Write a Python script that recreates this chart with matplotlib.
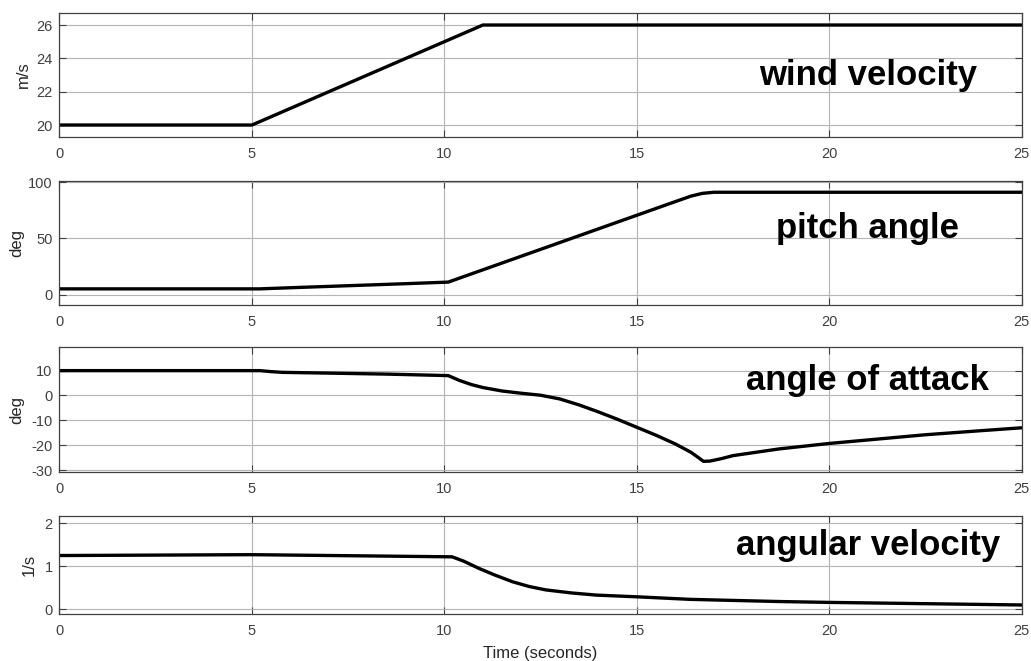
import numpy as np
import matplotlib
matplotlib.use("Agg")
import matplotlib.pyplot as plt

plt.rcParams['font.family'] = ['Liberation Sans', 'DejaVu Sans']
plt.rcParams['axes.unicode_minus'] = False

# values
t_wind = [0, 5, 11, 25]
wind = [20, 20, 26, 26]

t_pitch = [0, 5.2, 6.0, 7.0, 8.0, 9.0, 10.1, 12.0, 14.0, 16.0, 16.4, 16.7, 17.0, 25]
pitch = [5.3, 5.3, 6.3, 7.5, 8.7, 9.9, 11.3, 34.3, 58.5, 82.7, 87.5, 90.0, 91.0, 91.0]

t_aoa = [0, 5.2, 5.5, 5.8, 7.0, 8.5, 10.1, 10.25, 10.4, 10.7, 11.0, 11.5, 12.0, 12.5,
         13.0, 13.5, 14.0, 14.5, 15.0, 15.5, 16.0, 16.4, 16.6, 16.73, 16.9, 17.2,
         17.5, 18.7, 20.0, 21.0, 22.5, 24.0, 25.0]
aoa = [10, 10, 9.6, 9.3, 9.0, 8.6, 8.0, 7.0, 6.0, 4.4, 3.2, 1.8, 0.9, 0.1,
       -1.4, -3.8, -6.6, -9.6, -12.8, -16.0, -19.5, -22.8, -25.0, -26.5, -26.4, -25.4,
       -24.2, -21.5, -19.3, -17.9, -15.8, -14.1, -13.0]

t_omega = [0, 5.0, 10.2, 10.5, 10.9, 11.3, 11.77, 12.2, 12.64, 13.3, 13.94, 15.0,
           16.4, 18.7, 20.0, 22.5, 25.0]
omega = [1.25, 1.27, 1.22, 1.12, 0.95, 0.80, 0.64, 0.53, 0.45, 0.38, 0.33, 0.29,
         0.23, 0.18, 0.16, 0.13, 0.10]

series = [
    (t_wind, wind, 'm/s', (19.28, 26.72), [20, 22, 24, 26], 'wind velocity', 22.4),
    (t_pitch, pitch, 'deg', (-9, 101), [0, 50, 100], 'pitch angle', 50),
    (t_aoa, aoa, 'deg', (-30.8, 19.5), [-30, -20, -10, 0, 10], 'angle of attack', 2.2),
    (t_omega, omega, '1/s', (-0.11, 2.17), [0, 1, 2], 'angular velocity', 1.26),
]
ylab_x = [-0.030, -0.037, -0.037, -0.024]

fig = plt.figure(figsize=(10.31, 6.61), dpi=100)
left, width = 0.0577, 0.9333
boxes = [(0.7927, 0.1876), (0.5386, 0.1876), (0.2859, 0.1891), (0.0711, 0.1483)]

for (t, y, ylab, ylim, yt, name, ytext), (b, h), lx in zip(series, boxes, ylab_x):
    ax = fig.add_axes([left, b, width, h])
    ax.plot(t, y, color='black', lw=2.4)
    ax.set_xlim(0, 25)
    ax.set_ylim(*ylim)
    ax.set_xticks([0, 5, 10, 15, 20, 25])
    ax.set_yticks(yt)
    ax.grid(True, color='#b4b4b4', lw=0.8)
    ax.tick_params(direction='in', top=True, right=True, labelsize=10.5,
                   colors='#404040', length=5, width=0.8, pad=7)
    ax.tick_params(axis='y', pad=5)
    for s in ax.spines.values():
        s.set_color('#404040')
        s.set_linewidth(0.9)
    ax.set_ylabel(ylab, fontsize=12, color='#262626')
    ax.yaxis.set_label_coords(lx, 0.5)
    ax.text(21.0, ytext, name, fontsize=25, fontweight='bold', ha='center',
            va='baseline', color='black')

ax.set_xlabel('Time (seconds)', fontsize=12, color='#262626', labelpad=6)

fig.savefig('out.png', dpi=100)
